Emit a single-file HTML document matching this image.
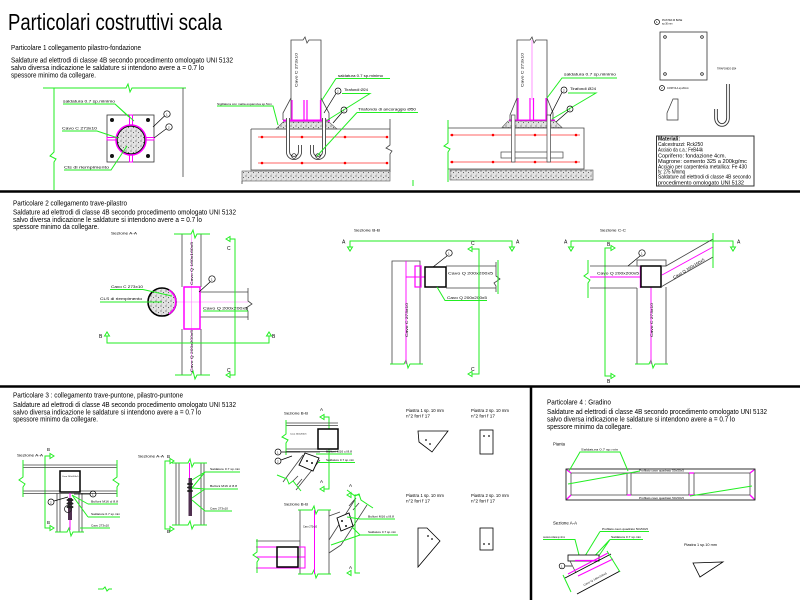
<!DOCTYPE html>
<html><head><meta charset="utf-8"><style>
html,body{margin:0;padding:0;background:#fff;}
svg{display:block;}
text{font-family:"Liberation Sans",Arial,sans-serif;fill:#000;}
.g{stroke:#22ee22;fill:none;stroke-width:1}
.k{stroke:#000;fill:none;stroke-width:0.7}
.d{stroke:#444;fill:none;stroke-width:0.8}
.m{stroke:#ff00ff;fill:none;stroke-width:1.2}
.r{stroke:#ff3030;fill:none;stroke-width:0.7}
.n{font-size:4px}
.s{font-size:3px}
</style></head><body>
<svg width="800" height="600" viewBox="0 0 800 600" xmlns="http://www.w3.org/2000/svg">
<defs>
<pattern id="cc" width="5" height="5" patternUnits="userSpaceOnUse">
<rect width="5" height="5" fill="#e2e2e2"/>
<circle cx="1" cy="1" r="0.6" fill="#555"/>
<circle cx="3.5" cy="2.6" r="0.5" fill="#333"/>
<circle cx="1.8" cy="4.1" r="0.4" fill="#777"/>
</pattern>
</defs>
<rect width="800" height="600" fill="#fff"/>

<!-- Title -->
<text x="8" y="30" font-size="23" textLength="214" lengthAdjust="spacingAndGlyphs">Particolari costruttivi scala</text>

<!-- dividers -->
<line x1="0" y1="191.5" x2="800" y2="191.5" stroke="#000" stroke-width="2.5"/>
<line x1="0" y1="386.5" x2="800" y2="386.5" stroke="#000" stroke-width="2.5"/>
<line x1="531" y1="386" x2="531" y2="600" stroke="#000" stroke-width="2.5"/>

<!-- ============ SECTION 1 ============ -->
<text x="11" y="50" font-size="7" textLength="130" lengthAdjust="spacingAndGlyphs">Particolare 1 collegamento pilastro-fondazione</text>
<text x="11" y="62.5" font-size="7.6" textLength="222" lengthAdjust="spacingAndGlyphs">Saldature ad elettrodi di classe 4B secondo procedimento omologato  UNI 5132</text>
<text x="11" y="70" font-size="7.6" textLength="193" lengthAdjust="spacingAndGlyphs">salvo diversa indicazione le saldature si intendono avere a = 0.7 lo</text>
<text x="11" y="77.5" font-size="7.6" textLength="85" lengthAdjust="spacingAndGlyphs">spessore minimo da collegare.</text>

<!-- plan view -->
<path class="g" d="M43 88 H126 L128 84 L130 92 L132 88 H186"/>
<path class="g" d="M54 88 V152 L50 156 L56 159 L54 162 V190"/>
<line class="d" x1="183" y1="88" x2="183" y2="177"/>
<rect x="107" y="115" width="47" height="47" fill="#fff" stroke="#333" stroke-width="0.8"/>
<g fill="none" stroke="#ff00ff" stroke-width="1">
<rect x="129.5" y="115" width="3" height="11"/>
<rect x="129.5" y="154" width="3" height="8"/>
<rect x="107" y="137.5" width="10" height="2.5"/>
<rect x="145" y="137.5" width="9" height="2.5"/>
</g>
<circle cx="131" cy="140" r="15" fill="url(#cc)" stroke="#ff00ff" stroke-width="1.6"/>
<circle cx="131" cy="140" r="13.8" fill="none" stroke="#000" stroke-width="0.9"/>
<g fill="#111"><circle cx="112" cy="120" r="2"/><circle cx="148" cy="120" r="2"/><circle cx="112" cy="156" r="2"/><circle cx="148" cy="156" r="2"/></g>
<text x="63" y="102.5" class="n" textLength="52" lengthAdjust="spacingAndGlyphs">saldatura 0.7 sp.minimo</text>
<path class="g" d="M63 104 H115 L129 117 M115 104 L134 121"/>
<text x="62" y="129.5" class="n" textLength="35" lengthAdjust="spacingAndGlyphs">Cavo C 273x10</text>
<path class="g" d="M62 131 H97 L118 138"/>
<text x="64" y="168.5" class="n" textLength="45" lengthAdjust="spacingAndGlyphs">Cls di riempimento</text>
<path class="g" d="M64 170 H111 L127 146"/>
<circle cx="167" cy="114" r="3.2" class="k" fill="#fff"/><text x="166" y="115.5" class="s">1</text>
<line class="k" x1="164.5" y1="116" x2="153" y2="127"/>
<circle cx="169" cy="127" r="3.2" class="k" fill="#fff"/><text x="168" y="128.5" class="s">2</text>
<line class="k" x1="166" y1="129" x2="154" y2="138"/>

<!-- elevation 1 -->
<path class="d" d="M291 121 V40 H303 L305 37 L307 43 L309 40 H321 V121"/>
<path class="m" d="M292 100 V120 M320.5 100 V120 M304 100 V120 M307 100 V120"/>
<line x1="283" y1="120.5" x2="330" y2="120.5" stroke="#ff00ff" stroke-width="2"/>
<path class="d" d="M291 98 L283 113 V120 M321 98 L329 113 V120"/>
<polygon points="283,122 329,122 337,129 276,129" fill="url(#cc)" stroke="#555" stroke-width="0.6"/>
<path class="d" d="M251 129 H390 M251 129 V170 H390 M390 119 V145 L386 148 L392 151 L390 154 V172"/>
<line class="r" x1="258" y1="137" x2="388" y2="137"/>
<line class="r" x1="258" y1="163" x2="388" y2="163"/>
<g fill="#ff0000"><circle cx="262" cy="137" r="1.3"/><circle cx="302" cy="137" r="1.3"/><circle cx="345" cy="137" r="1.3"/><circle cx="387" cy="137" r="1.3"/>
<circle cx="262" cy="163" r="1.3"/><circle cx="302" cy="163" r="1.3"/><circle cx="345" cy="163" r="1.3"/><circle cx="387" cy="163" r="1.3"/></g>
<path d="M288 118 V152 a6 6 0 0 0 12 0 V145 M312 145 V152 a6 6 0 0 0 12 0 V118" stroke="#444" stroke-width="4" fill="none"/>
<path d="M288 118 V152 a6 6 0 0 0 12 0 V145 M312 145 V152 a6 6 0 0 0 12 0 V118" stroke="#fff" stroke-width="2.2" fill="none"/>
<circle cx="294" cy="156" r="2.3" class="k"/><circle cx="318" cy="156" r="2.3" class="k"/>
<rect x="242" y="171" width="148" height="10" fill="url(#cc)" stroke="#555" stroke-width="0.6"/>
<line class="d" x1="242" y1="181" x2="242" y2="184"/>
<line class="g" x1="413" y1="180" x2="413" y2="186"/>
<text transform="translate(297.5,87) rotate(-90)" class="n" textLength="34" lengthAdjust="spacingAndGlyphs">Cavo C 273x10</text>
<text x="338" y="77" class="n" textLength="45" lengthAdjust="spacingAndGlyphs">saldatura 0.7 sp.minimo</text>
<path class="g" d="M322 100 L336 78.5 H390"/>
<circle cx="338" cy="91" r="3" class="k" fill="#fff"/><text x="337" y="92.5" class="s">2</text>
<line class="k" x1="336" y1="93.5" x2="324" y2="113"/>
<text x="344" y="91" class="n" textLength="24" lengthAdjust="spacingAndGlyphs">Tirafondi Ø24</text>
<path class="g" d="M342 93.5 H370 L326 121"/>
<circle cx="344" cy="110" r="3" class="k" fill="#fff"/><text x="343" y="111.5" class="s">1</text>
<line class="k" x1="342" y1="112.5" x2="333" y2="123"/>
<text x="358" y="110.5" class="n" textLength="58" lengthAdjust="spacingAndGlyphs">Tirafondo di ancoraggio Ø50</text>
<path class="g" d="M357 112.5 H418 M357 112.5 L317 156"/>
<text x="217" y="105" font-size="2.6" textLength="55" lengthAdjust="spacingAndGlyphs">Sigillatura con malta espansiva sp.5cm</text>
<path class="g" d="M217 106 H273 L278 125"/>

<!-- elevation 2 -->
<path class="d" d="M517 121 V40 H530 L532 37 L534 43 L536 40 H547 V121"/>
<line x1="532" y1="40" x2="532" y2="100" stroke="#ff66ff" stroke-width="0.7"/>
<path class="m" d="M518 98 V120 M546 98 V120 M530 98 V120 M533.5 98 V120"/>
<line x1="509" y1="120.5" x2="555" y2="120.5" stroke="#ff00ff" stroke-width="2"/>
<path class="d" d="M517 98 L510 115 V120 M547 98 L553 113 V120"/>
<polygon points="508,121 555,121 562,127.5 502,127.5" fill="url(#cc)" stroke="#555" stroke-width="0.6"/>
<path class="d" d="M448 128 H584 V169 H448"/>
<path class="g" d="M448 120 V143 L444 146 L450 149 L448 152 V182"/>
<line class="r" x1="450" y1="135" x2="580" y2="135"/>
<line class="r" x1="450" y1="162" x2="580" y2="162"/>
<g fill="#ff0000"><circle cx="452" cy="135" r="1.3"/><circle cx="493" cy="135" r="1.3"/><circle cx="535" cy="135" r="1.3"/><circle cx="576" cy="135" r="1.3"/>
<circle cx="452" cy="162" r="1.3"/><circle cx="493" cy="162" r="1.3"/><circle cx="535" cy="162" r="1.3"/><circle cx="576" cy="162" r="1.3"/></g>
<rect x="501" y="152" width="62" height="6" fill="#fff" stroke="#444" stroke-width="0.7"/>
<rect x="511.5" y="115" width="3.5" height="47" fill="#fff" stroke="#444" stroke-width="0.7"/>
<rect x="547" y="115" width="3.5" height="47" fill="#fff" stroke="#444" stroke-width="0.7"/>
<rect x="450" y="170" width="143" height="10" fill="url(#cc)" stroke="#555" stroke-width="0.6"/>
<text transform="translate(523.5,87) rotate(-90)" class="n" textLength="34" lengthAdjust="spacingAndGlyphs">Cavo C 273x10</text>
<text x="564" y="75.5" class="n" textLength="52" lengthAdjust="spacingAndGlyphs">saldatura 0.7 sp.minimo</text>
<path class="g" d="M547 98 L562 78 H617"/>
<circle cx="564" cy="90" r="3" class="k" fill="#fff"/><text x="563" y="91.5" class="s">2</text>
<line class="k" x1="562" y1="92.5" x2="550" y2="116"/>
<text x="570" y="90" class="n" textLength="26" lengthAdjust="spacingAndGlyphs">Tirafondi Ø24</text>
<path class="g" d="M568 93 H596 L552 119"/>
<circle cx="570" cy="109" r="3" class="k" fill="#fff"/><text x="569" y="110.5" class="s">1</text>
<line class="k" x1="568" y1="111.5" x2="556" y2="122"/>

<!-- far right details -->
<circle cx="657" cy="22" r="2.5" class="k"/><text x="656" y="23.2" font-size="3">1</text>
<text x="662" y="21" font-size="2.4">PIASTRA DI BASE</text><text x="662" y="24.5" font-size="2.4">sp.30 mm</text>
<rect x="660" y="32" width="47" height="48" fill="#fff" stroke="#333" stroke-width="0.8"/>
<g class="k"><circle cx="665" cy="37" r="1.3"/><circle cx="702" cy="37" r="1.3"/><circle cx="665" cy="74" r="1.3"/><circle cx="702" cy="74" r="1.3"/></g>
<text x="717" y="69.5" font-size="2.4">TIRAFONDO Ø24</text>
<circle cx="662" cy="88" r="2.5" class="k"/><text x="661" y="89.2" font-size="3">2</text>
<text x="667" y="89" font-size="2.4">COSTOLA sp.20mm</text>
<polygon points="673,99 678,99 678,120 667,120 667,113" fill="#fff" stroke="#333" stroke-width="0.7"/>
<path d="M728 84 V118 a6 7 0 0 1 -12 0 V109" stroke="#333" stroke-width="3.6" fill="none"/>
<path d="M728 84 V118 a6 7 0 0 1 -12 0 V109" stroke="#fff" stroke-width="1.8" fill="none"/>
<rect x="656.5" y="136" width="97.5" height="50" fill="#fff" stroke="#333" stroke-width="1"/>
<text x="658" y="140.5" font-size="5.4" font-weight="bold" textLength="22" lengthAdjust="spacingAndGlyphs">Materiali:</text>
<text x="658" y="146" font-size="5.2" textLength="45" lengthAdjust="spacingAndGlyphs">Calcestruzzi: Rck250</text>
<text x="658" y="151.7" font-size="5.2" textLength="45" lengthAdjust="spacingAndGlyphs">Acciaio da c.a.: FeB44k</text>
<text x="658" y="157.4" font-size="5.2" textLength="68" lengthAdjust="spacingAndGlyphs">Copriferro: fondazione 4cm.</text>
<text x="658" y="163" font-size="5.2" textLength="89" lengthAdjust="spacingAndGlyphs">Magrone: cemento 325 a 200kg/mc</text>
<text x="658" y="168.4" font-size="5.2" textLength="89" lengthAdjust="spacingAndGlyphs">Acciaio per carpenteria metallica: Fe 430</text>
<text x="658" y="173.5" font-size="5.2" textLength="27" lengthAdjust="spacingAndGlyphs">fy: 275 N/mmq</text>
<text x="658" y="178.5" font-size="5.2" textLength="93" lengthAdjust="spacingAndGlyphs">Saldature ad elettrodi di classe 4B secondo</text>
<text x="658" y="184.3" font-size="5.2" textLength="86" lengthAdjust="spacingAndGlyphs">procedimento omologato  UNI 5132</text>

<!-- ============ SECTION 2 ============ -->
<text x="13" y="205.5" font-size="7" textLength="114" lengthAdjust="spacingAndGlyphs">Particolare 2 collegamento trave-pilastro</text>
<text x="13" y="214.5" font-size="7.6" textLength="223" lengthAdjust="spacingAndGlyphs">Saldature ad elettrodi di classe 4B secondo procedimento omologato  UNI 5132</text>
<text x="13" y="222" font-size="7.6" textLength="189" lengthAdjust="spacingAndGlyphs">salvo diversa indicazione le saldature si intendono avere a = 0.7 lo</text>
<text x="13" y="229" font-size="7.6" textLength="86" lengthAdjust="spacingAndGlyphs">spessore minimo da collegare.</text>

<!-- Sezione A-A -->
<text x="111" y="234.5" class="n" textLength="26" lengthAdjust="spacingAndGlyphs">Sezione A-A</text>
<path class="d" d="M182 234 V287 M201 234 V287 M182 329 V375 M201 329 V375"/>
<path class="g" d="M174 234 H191 L193 230 L195 238 L197 234 H210"/>
<path class="g" d="M175 375 H191 L193 371 L195 379 L197 375 H210"/>
<line x1="191.5" y1="234" x2="191.5" y2="375" stroke="#ff80ff" stroke-width="0.6"/>
<path class="d" d="M200 292 H248 M200 317 H248 M248 288 V301 L252 304 L246 308 L248 311 V320"/>
<line x1="162" y1="302" x2="248" y2="302" stroke="#ff80ff" stroke-width="0.6"/>
<rect x="184" y="287" width="16" height="42" fill="none" stroke="#ff00ff" stroke-width="1.5"/>
<circle cx="162" cy="302" r="14" fill="url(#cc)" stroke="#000" stroke-width="1.6"/>
<path d="M169 290 A14 14 0 0 1 169 314" stroke="#ff00ff" stroke-width="1.6" fill="none"/>
<text transform="translate(193,285) rotate(-90)" class="n" textLength="43" lengthAdjust="spacingAndGlyphs">Cavo Q 160x160x5</text>
<text transform="translate(193,372) rotate(-90)" class="n" textLength="42" lengthAdjust="spacingAndGlyphs">Cavo Q 200x200x5</text>
<text x="111" y="288" class="n" textLength="32" lengthAdjust="spacingAndGlyphs">Cavo C 273x10</text>
<path class="g" d="M110 289.5 H143 L172 296"/>
<text x="100" y="300" class="n" textLength="42" lengthAdjust="spacingAndGlyphs">CLS di riempimento</text>
<path class="g" d="M100 302 H162"/>
<text x="203" y="309.5" class="n" textLength="45" lengthAdjust="spacingAndGlyphs">Cavo Q 200x200x5</text>
<path class="g" d="M203 311 H248"/>
<circle cx="212" cy="279" r="3.2" class="k" fill="#fff"/><text x="211" y="280.5" class="s">1</text>
<line class="k" x1="210" y1="282" x2="199" y2="292"/>
<path class="g" d="M230 239 H235 V375 H230"/>
<polygon class="g" points="226,239 230,236.5 230,241.5"/>
<polygon class="g" points="226,375 230,372.5 230,377.5"/>
<text x="227" y="250" font-size="5">C</text>
<text x="227" y="372" font-size="5">C</text>
<path class="g" d="M107 336 V343 H269 V336"/>
<polygon class="g" points="104.5,336 109.5,336 107,332"/>
<polygon class="g" points="266.5,336 271.5,336 269,332"/>
<text x="99" y="338" font-size="5">B</text>
<text x="272" y="338" font-size="5">B</text>

<!-- Sezione B-B -->
<text x="354" y="231.5" class="n" textLength="26" lengthAdjust="spacingAndGlyphs">Sezione B-B</text>
<path class="g" d="M350 247 V241 H512 V247"/>
<polygon class="g" points="347.5,247 352.5,247 350,251"/>
<polygon class="g" points="509.5,247 514.5,247 512,251"/>
<text x="342" y="243.5" font-size="5">A</text>
<text x="516" y="243.5" font-size="5">A</text>
<path class="d" d="M392 364 V261 H420 V364"/>
<path class="g" d="M390 364 H404 L406 360 L408 368 L410 364 H423"/>
<line x1="406" y1="261" x2="406" y2="364" stroke="#ff00ff" stroke-width="0.9"/>
<rect x="415" y="266" width="6" height="21" fill="none" stroke="#ff00ff" stroke-width="1.2"/>
<line x1="406" y1="277" x2="425" y2="277" stroke="#ff00ff" stroke-width="0.9"/>
<rect x="425" y="267" width="21" height="20" fill="none" stroke="#000" stroke-width="1.5"/>
<path class="d" d="M446 266 H496 M446 288 H496 M496 262 V276 L500 279 L494 283 L496 286 V292"/>
<line class="g" x1="498" y1="260" x2="498" y2="294"/>
<text transform="translate(408,337) rotate(-90)" class="n" textLength="34" lengthAdjust="spacingAndGlyphs">Cavo C 273x10</text>
<text x="448" y="274.5" class="n" textLength="45" lengthAdjust="spacingAndGlyphs">Cavo Q 200x200x5</text>
<text x="447" y="299" class="n" textLength="40" lengthAdjust="spacingAndGlyphs">Cavo Q 200x200x5</text>
<path class="g" d="M437 287 L445 300.5 H487"/>
<circle cx="449" cy="253" r="3.2" class="k" fill="#fff"/><text x="448" y="254.5" class="s">1</text>
<line class="k" x1="447" y1="256" x2="433" y2="267"/>
<path class="g" d="M472 249 H479 V374 H472"/>
<polygon class="g" points="468,249 472,246.5 472,251.5"/>
<polygon class="g" points="468,374 472,371.5 472,376.5"/>
<text x="471" y="245" font-size="5">C</text>
<text x="471" y="371" font-size="5">C</text>

<!-- Sezione C-C -->
<text x="600" y="231.5" class="n" textLength="26" lengthAdjust="spacingAndGlyphs">Sezione C-C</text>
<path class="g" d="M571 247 V241 H733 V247"/>
<polygon class="g" points="568.5,247 573.5,247 571,251"/>
<polygon class="g" points="730.5,247 735.5,247 733,251"/>
<text x="564" y="243.5" font-size="5">A</text>
<text x="737" y="243.5" font-size="5">A</text>
<path class="g" d="M611 248 H605 V376 H611"/>
<polygon class="g" points="611,245.5 611,250.5 615,248"/>
<polygon class="g" points="611,373.5 611,378.5 615,376"/>
<text x="607" y="246" font-size="5">B</text>
<text x="607" y="383" font-size="5">B</text>
<path class="d" d="M590 266 H641 M590 288 H637"/>
<path class="g" d="M588 260 V273 L584 276 L590 280 L588 283 V298"/>
<line x1="590" y1="277" x2="641" y2="277" stroke="#ff00ff" stroke-width="0.9"/>
<path class="d" d="M637 288 V364 M666 287 V364"/>
<path class="g" d="M635 364 H649 L651 360 L653 368 L655 364 H668"/>
<line x1="651" y1="287" x2="651" y2="364" stroke="#ff00ff" stroke-width="0.9"/>
<rect x="637" y="260" width="29" height="6" fill="#fff" stroke="#444" stroke-width="0.8"/>
<line x1="640.5" y1="266" x2="640.5" y2="288" stroke="#ff00ff" stroke-width="1.4"/>
<rect x="641" y="266" width="20" height="21" fill="none" stroke="#000" stroke-width="1.5"/>
<path class="d" d="M666 266 L713 239 M666 284 L713 257 M661 266 H666 M661 287 L666 284"/>
<line x1="662" y1="275" x2="713" y2="247" stroke="#ff00ff" stroke-width="0.9"/>
<line class="g" x1="713" y1="233" x2="713" y2="268"/>
<text transform="translate(674,279) rotate(-31)" class="n" textLength="36" lengthAdjust="spacingAndGlyphs">Cavo Q 160x160x5</text>
<text x="597" y="274.5" class="n" textLength="42" lengthAdjust="spacingAndGlyphs">Cavo Q 200x200x5</text>
<text transform="translate(653,337) rotate(-90)" class="n" textLength="34" lengthAdjust="spacingAndGlyphs">Cavo C 273x10</text>
<circle cx="642" cy="253" r="3.2" class="k" fill="#fff"/><text x="641" y="254.5" class="s">1</text>
<line class="k" x1="640" y1="256" x2="628" y2="266"/>

<!-- ============ SECTION 3 ============ -->
<text x="13" y="397.5" font-size="7" textLength="170" lengthAdjust="spacingAndGlyphs">Particolare 3 : collegamento trave-puntone, pilastro-puntone</text>
<text x="13" y="407" font-size="7.6" textLength="223" lengthAdjust="spacingAndGlyphs">Saldature ad elettrodi di classe 4B secondo procedimento omologato  UNI 5132</text>
<text x="13" y="414.5" font-size="7.6" textLength="188" lengthAdjust="spacingAndGlyphs">salvo diversa indicazione le saldature si intendono avere a = 0.7 lo</text>
<text x="13" y="421.5" font-size="7.6" textLength="85" lengthAdjust="spacingAndGlyphs">spessore minimo da collegare.</text>

<!-- left A-A -->
<text x="17" y="456.5" class="n" textLength="26" lengthAdjust="spacingAndGlyphs">Sezione A-A</text>
<path class="g" d="M50 456 H45 V528 H50"/>
<polygon class="g" points="50,453.5 50,458.5 54,456"/>
<polygon class="g" points="50,525.5 50,530.5 54,528"/>
<text x="47" y="451" font-size="4.5">B</text>
<text x="47" y="524" font-size="4.5">B</text>
<path class="d" d="M23 465 H117 M23 467.5 H117 M23 491 H60 M80 491 H117 M23 493.5 H117"/>
<path class="g" d="M23 460 V477 L19 480 L25 484 L23 487 V497 M117 460 V477 L113 480 L119 484 L117 487 V497"/>
<rect x="60" y="471" width="20" height="21" fill="#fff" stroke="#000" stroke-width="1.5"/>
<text x="62" y="477" font-size="2.2">Cavo 200x200x5</text>
<path class="d" d="M57 493 V532 M82 493 V532 M60 493 V532 M79 493 V532"/>
<path class="g" d="M55 532 H67 L69 528 L71 536 L73 532 H84"/>
<line x1="70" y1="493" x2="70" y2="530" stroke="#ff00ff" stroke-width="1"/>
<rect x="68" y="498" width="4" height="22" fill="#503050"/>
<g fill="#222"><ellipse cx="70" cy="500" rx="3.5" ry="1.5"/><ellipse cx="70" cy="503.5" rx="3.5" ry="1.5"/><ellipse cx="70" cy="507" rx="3.5" ry="1.5"/></g>
<circle cx="68" cy="509" r="3.5" fill="none" stroke="#222" stroke-width="0.8"/>
<path class="g" d="M72 495 L88 504 M72 495 L88 517"/>
<circle cx="51" cy="502" r="3" class="k" fill="#fff"/><text x="50" y="503.5" class="s">2</text>
<line class="k" x1="54" y1="501" x2="68" y2="497"/>
<circle cx="93" cy="494" r="3" class="k" fill="#fff"/><text x="92" y="495.5" class="s">1</text>
<line class="k" x1="90" y1="494" x2="74" y2="494"/>
<text x="91" y="502.5" font-size="3" textLength="27" lengthAdjust="spacingAndGlyphs">Bulloni M16 cl 8.8</text>
<path class="g" d="M88 504 H118"/>
<text x="91" y="515" font-size="3" textLength="29" lengthAdjust="spacingAndGlyphs">Saldature 0.7 sp.min</text>
<path class="g" d="M88 517 H120"/>
<text x="91" y="526.5" font-size="3" textLength="18" lengthAdjust="spacingAndGlyphs">Cavo 273x10</text>
<path class="g" d="M80 528 H110"/>

<!-- middle A-A -->
<text x="138" y="457.5" class="n" textLength="26" lengthAdjust="spacingAndGlyphs">Sezione A-A</text>
<path class="g" d="M170 461 H165 V529 H170"/>
<polygon class="g" points="170,458.5 170,463.5 174,461"/>
<polygon class="g" points="170,526.5 170,531.5 174,529"/>
<text x="167" y="458" font-size="4.5">B</text>
<text x="167" y="533" font-size="4.5">B</text>
<path class="d" d="M176 463 V525 M204 463 V525 M179 463 V525 M201 463 V525"/>
<path class="g" d="M172 463 H188 L190 459 L192 467 L194 463 H207"/>
<path class="g" d="M172 525 H188 L190 521 L192 529 L194 525 H207"/>
<line x1="189.5" y1="463" x2="189.5" y2="478" stroke="#ff00ff" stroke-width="1"/>
<rect x="188.5" y="478" width="3.5" height="38" fill="#503050"/>
<g fill="#222"><ellipse cx="190" cy="484" rx="3" ry="1.3"/><ellipse cx="190" cy="487.5" rx="3" ry="1.3"/><ellipse cx="190" cy="491" rx="3" ry="1.3"/></g>
<path class="g" d="M192 480 L205 472 M192 488 L205 472 M192 488 L205 489 M192 498 L205 489 M192 500 L205 511"/>
<text x="210" y="470" font-size="3" textLength="30" lengthAdjust="spacingAndGlyphs">Saldature 0.7 sp.min</text>
<path class="g" d="M205 472 H240"/>
<text x="210" y="487" font-size="3" textLength="27" lengthAdjust="spacingAndGlyphs">Bulloni M16 cl 8.8</text>
<path class="g" d="M205 489 H238"/>
<text x="210" y="509.5" font-size="3" textLength="18" lengthAdjust="spacingAndGlyphs">Cavo 273x10</text>
<path class="g" d="M205 511 H232"/>
<path class="g" d="M98 589 H103 L105 587 L107 591 L109 589 H112"/>

<!-- right B-B top -->
<text x="284" y="414.5" class="n" textLength="24" lengthAdjust="spacingAndGlyphs">Sezione B-B</text>
<path class="g" d="M324 417 H329 V489 H324"/>
<polygon class="g" points="324,414.5 324,419.5 320,417"/>
<polygon class="g" points="324,486.5 324,491.5 320,489"/>
<text x="320" y="411" font-size="4.5">A</text>
<text x="320" y="483" font-size="4.5">A</text>
<path class="d" d="M286 423 H338 M286 425.5 H338 M286 449 H318 M286 451.5 H338"/>
<path class="g" d="M286 420 V434 L282 437 L288 440 L286 443 V455"/>
<rect x="318" y="429" width="20" height="20" fill="#fff" stroke="#000" stroke-width="1.5"/>
<text x="290" y="434.5" font-size="2.2">Cavo 200x200x5</text>
<path class="d" d="M300 452 L320 452 M283 482 L303 455 M296 490 L320 460"/>
<polygon points="305,453 319,458 313,471 299,465" fill="#fff" stroke="#000" stroke-width="0.9"/>
<g fill="#111"><circle cx="307" cy="461" r="1"/><circle cx="312" cy="463" r="1"/></g>
<path class="d" d="M293 481 L298 476 M297 485 L302 479" stroke-width="1.5"/>
<path class="g" d="M277 475 L287 479 L289 484 L293 481 L301 491"/>
<circle cx="278" cy="452" r="3" class="k" fill="#fff"/><text x="277" y="453.5" class="s">1</text>
<line class="k" x1="281" y1="452" x2="300" y2="452"/>
<circle cx="278" cy="461" r="3" class="k" fill="#fff"/><text x="277" y="462.5" class="s">2</text>
<line class="k" x1="281" y1="460" x2="292" y2="456"/>
<text x="326" y="452.5" font-size="3" textLength="26" lengthAdjust="spacingAndGlyphs">Bulloni M16 cl 8.8</text>
<path class="g" d="M316 454 H352"/>
<text x="326" y="461" font-size="3" textLength="28" lengthAdjust="spacingAndGlyphs">Saldature 0.7 sp.min</text>
<path class="g" d="M318 462.5 H355"/>

<!-- right B-B bottom -->
<text x="284" y="505.5" class="n" textLength="24" lengthAdjust="spacingAndGlyphs">Sezione B-B</text>
<path class="d" d="M300 510 V574 M329 510 V574"/>
<path class="g" d="M298 510 H312 L314 506 L316 514 L318 510 H331 M298 574 H312 L314 570 L316 578 L318 574 H331"/>
<line x1="314.5" y1="510" x2="314.5" y2="574" stroke="#ff00ff" stroke-width="1"/>
<text x="303" y="527.5" font-size="2.4">Cavo 273x10</text>
<path class="d" d="M256 541 H300"/>
<path d="M256 547 H305 V568 H256 M256 557 H305" stroke="#ff00ff" stroke-width="1" fill="none"/>
<path class="g" d="M257 539 V552 L253 555 L259 559 L257 562 V573"/>
<rect x="277" y="547" width="21" height="20" fill="none" stroke="#000" stroke-width="1.5"/>
<path class="d" d="M329 516 L340 512 M329 553 L341 545 M329 540 L356 498 M341 545 L367 505"/>
<polygon points="337,518 349,513 353,526 341,531" fill="#fff" stroke="#000" stroke-width="0.9"/>
<g fill="#111"><circle cx="342" cy="521" r="1"/><circle cx="346" cy="526" r="1"/></g>
<path class="d" d="M349 506 L355 499 M353 510 L359 503" stroke-width="1.5"/>
<path class="g" d="M347 490 L355 496 L359 494 L361 500 L373 508"/>
<path class="g" d="M360 495 H355 V573 H360"/>
<polygon class="g" points="347,495 351,492.5 351,497.5"/>
<polygon class="g" points="347,573 351,570.5 351,575.5"/>
<text x="349" y="487" font-size="4.5">A</text>
<text x="349" y="569" font-size="4.5">A</text>
<text x="368" y="517.5" font-size="3" textLength="26" lengthAdjust="spacingAndGlyphs">Bulloni M16 cl 8.8</text>
<path class="g" d="M347 517 L360 519 H395"/>
<text x="368" y="533" font-size="3" textLength="28" lengthAdjust="spacingAndGlyphs">Saldature 0.7 sp.min</text>
<path class="g" d="M331 545 L360 535 H398 M352 527 L360 535"/>

<!-- piastre -->
<text x="406" y="412" font-size="4.2" textLength="38" lengthAdjust="spacingAndGlyphs">Piastra 1 sp. 10 mm</text>
<text x="406" y="417.5" font-size="4.2" textLength="24" lengthAdjust="spacingAndGlyphs">n°2 fori f 17</text>
<text x="471" y="412" font-size="4.2" textLength="38" lengthAdjust="spacingAndGlyphs">Piastra 2 sp. 10 mm</text>
<text x="471" y="417.5" font-size="4.2" textLength="24" lengthAdjust="spacingAndGlyphs">n°2 fori f 17</text>
<polygon points="418,431 448,431 432,452 419,442" fill="#fff" stroke="#000" stroke-width="0.8"/>
<g fill="#111"><circle cx="426" cy="440" r="0.9"/><circle cx="430" cy="444" r="0.9"/></g>
<rect x="480" y="430" width="13" height="24" fill="#fff" stroke="#000" stroke-width="0.8"/>
<g fill="#111"><circle cx="484" cy="436" r="0.9"/><circle cx="489" cy="436" r="0.9"/></g>
<text x="406" y="497" font-size="4.2" textLength="38" lengthAdjust="spacingAndGlyphs">Piastra 1 sp. 10 mm</text>
<text x="406" y="502.5" font-size="4.2" textLength="24" lengthAdjust="spacingAndGlyphs">n°2 fori f 17</text>
<text x="471" y="497" font-size="4.2" textLength="38" lengthAdjust="spacingAndGlyphs">Piastra 2 sp. 10 mm</text>
<text x="471" y="502.5" font-size="4.2" textLength="24" lengthAdjust="spacingAndGlyphs">n°2 fori f 17</text>
<polygon points="418,528 427,528 440,541 418,567" fill="#fff" stroke="#000" stroke-width="0.8"/>
<g fill="#111"><circle cx="428" cy="536" r="0.9"/><circle cx="432" cy="539" r="0.9"/></g>
<rect x="480" y="528" width="13" height="22" fill="#fff" stroke="#000" stroke-width="0.8"/>
<g fill="#111"><circle cx="484" cy="544" r="0.9"/><circle cx="489" cy="544" r="0.9"/></g>

<!-- ============ SECTION 4 ============ -->
<text x="547" y="404.5" font-size="7" textLength="64" lengthAdjust="spacingAndGlyphs">Particolare 4 : Gradino</text>
<text x="547" y="414" font-size="7.6" textLength="220" lengthAdjust="spacingAndGlyphs">Saldature ad elettrodi di classe 4B secondo procedimento omologato  UNI 5132</text>
<text x="547" y="421.5" font-size="7.6" textLength="188" lengthAdjust="spacingAndGlyphs">salvo diversa indicazione le saldature si intendono avere a = 0.7 lo</text>
<text x="547" y="429" font-size="7.6" textLength="85" lengthAdjust="spacingAndGlyphs">spessore minimo da collegare.</text>

<text x="553" y="445.5" font-size="4.5" textLength="12" lengthAdjust="spacingAndGlyphs">Pianta</text>
<rect x="566" y="469" width="189" height="31" fill="#fff" stroke="#000" stroke-width="0.8"/>
<rect x="571" y="473" width="179" height="22" fill="none" stroke="#333" stroke-width="0.7"/>
<path class="d" d="M566 469 L571 473 M755 469 L750 473 M566 500 L571 495 M755 500 L750 495 M627 473 V495 M631 473 V495 M689 473 V495 M694 473 V495"/>
<path d="M567 470 L571 473 M754 470 L750 473 M567 499 L571 495 M754 499 L750 495 M627 473 H631 M627 495 H631 M689 473 H694 M689 495 H694" stroke="#ff00ff" stroke-width="1.3" fill="none"/>
<text x="581" y="450.5" font-size="2.8" textLength="37" lengthAdjust="spacingAndGlyphs">Saldatura 0.7 sp.min</text>
<path class="g" d="M569 471 L580 452 H620 L628 471"/>
<text x="639" y="471.5" font-size="2.6" textLength="45" lengthAdjust="spacingAndGlyphs">Profilato cavo quadrato 50x50x5</text>
<path class="g" d="M568 484 L640 471"/>
<text x="639" y="499" font-size="2.6" textLength="45" lengthAdjust="spacingAndGlyphs">Profilato cavo quadrato 50x50x5</text>
<path class="g" d="M690 496 L752 486"/>

<text x="553" y="524.5" font-size="4.5" textLength="24" lengthAdjust="spacingAndGlyphs">Sezione A-A</text>
<text x="543" y="538" font-size="2.6" textLength="22" lengthAdjust="spacingAndGlyphs">Lamiera striata sp.4mm</text>
<path class="g" d="M543 539.5 H575 L579 555"/>
<text x="602" y="530" font-size="2.6" textLength="46" lengthAdjust="spacingAndGlyphs">Profilato cavo quadrato 50x50x5</text>
<path class="g" d="M600 531.5 H649 M600 531.5 L585 556"/>
<text x="611" y="538" font-size="2.6" textLength="30" lengthAdjust="spacingAndGlyphs">Saldatura 0.7 sp.min</text>
<path class="g" d="M610 539.5 H643 M610 539.5 L590 561 M610 539.5 L596 560"/>
<rect x="568" y="555" width="31" height="6" fill="#fff" stroke="#000" stroke-width="0.8"/>
<line x1="575" y1="560.5" x2="598" y2="560.5" stroke="#ff00ff" stroke-width="1.3"/>
<path class="d" d="M570 561 L576 573"/>
<path d="M565 578 L611 554 M577 594 L620 571" stroke="#000" stroke-width="0.9" fill="none"/>
<path d="M568 574 L608 553 M578 576 L613 559" stroke="#ff00ff" stroke-width="1" fill="none"/>
<path class="g" d="M563 575 L571 592 M607 551 L620 572"/>
<text transform="translate(584,586) rotate(-28)" font-size="2.6" textLength="26" lengthAdjust="spacingAndGlyphs">Cavo Q 160x160x5</text>
<circle cx="562" cy="566" r="2.8" class="k" fill="#fff"/><text x="561" y="567.3" class="s">1</text>
<line class="k" x1="565" y1="566" x2="572" y2="566"/>
<text x="684" y="546" font-size="3.8" textLength="33" lengthAdjust="spacingAndGlyphs">Piastra 1 sp.10 mm</text>
<polygon points="693,563 723,562 700,577" fill="#fff" stroke="#000" stroke-width="0.8"/>
</svg>
</body></html>
